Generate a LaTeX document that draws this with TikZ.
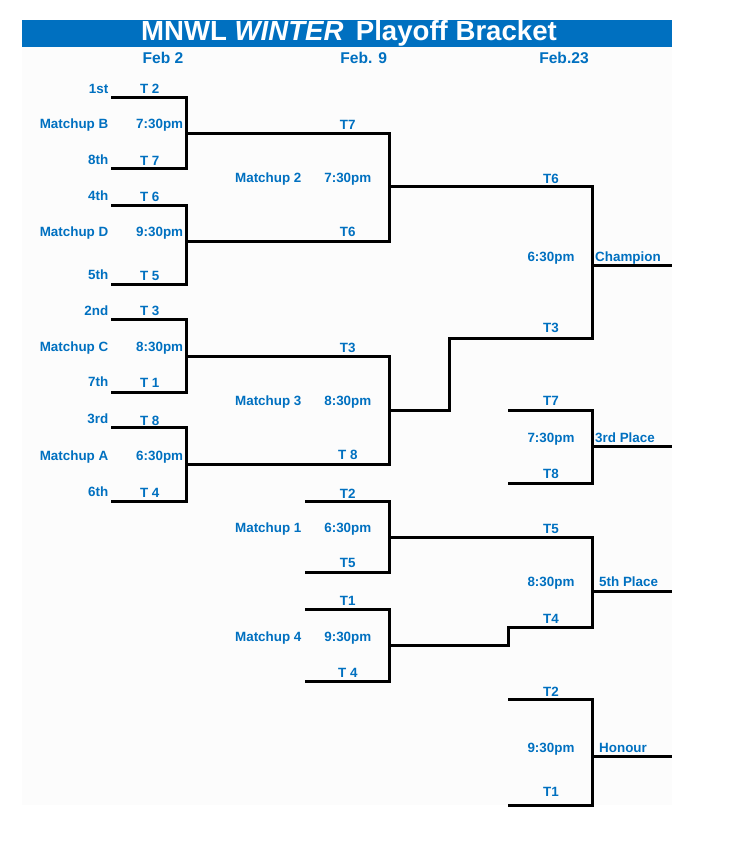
\documentclass[tikz,border=0pt]{standalone}
\usepackage{fontspec}
\setmainfont{Liberation Sans}
\definecolor{xlblue}{HTML}{0070C0}
\definecolor{faintbg}{HTML}{FCFCFC}
\begin{document}
\begin{tikzpicture}[x=1pt,y=-1pt,
  lbl/.style={font=\fontsize{13.4}{16}\selectfont\bfseries, text=xlblue, inner sep=0pt, anchor=base},
  lblr/.style={lbl, anchor=base east},
  lbll/.style={lbl, anchor=base west},
  hdr/.style={font=\fontsize{15.6}{18}\selectfont\bfseries, text=xlblue, inner sep=0pt, anchor=base},
  ttl/.style={font=\fontsize{27.6}{30}\selectfont\bfseries, text=white, inner sep=0pt, anchor=base},
  bline/.style={line width=3pt, black, line join=miter}]
\useasboundingbox (0,0) rectangle (732,844);
\fill[faintbg] (22,47) rectangle (672,805);
% title bar
\fill[xlblue] (22,20) rectangle (672,47);
\node[ttl] (title) at (349,40) {MNWL \textit{WINTER}\hspace{0.45em}Playoff Bracket};
% headers
\node[hdr] (h1) at (163,63.3) {Feb 2};
\node[hdr] (h2) at (363.7,63.3) {Feb. 9};
\node[hdr] (h3) at (564,63.3) {Feb.23};

% ---------- coordinates ----------
% round 1
\coordinate (Bt) at (111,97);    \coordinate (Bb) at (111,168);   \coordinate (Bv) at (186.5,133);
\coordinate (Dt) at (111,205);   \coordinate (Db) at (111,284);   \coordinate (Dv) at (186.5,241);
\coordinate (Ct) at (111,319.3); \coordinate (Cb) at (111,392.3); \coordinate (Cv) at (186.5,356.7);
\coordinate (At) at (111,427.7); \coordinate (Ab) at (111,501);   \coordinate (Av) at (186.5,464.7);
% round 2
\coordinate (M2v) at (389.3,186.5);
\coordinate (M3v) at (389.3,410);
\coordinate (M1t) at (305,501.7); \coordinate (M1b) at (305,572.3); \coordinate (M1v) at (389.3,537.7);
\coordinate (M4t) at (305,609.3); \coordinate (M4b) at (305,681);   \coordinate (M4v) at (389.3,645);
% bends
\coordinate (K3) at (449,338);
\coordinate (K4) at (508.3,627);
% round 3
\coordinate (CHv) at (592.5,265.7); \coordinate (CHe) at (672,265.7);
\coordinate (P3t) at (508.3,410);   \coordinate (P3b) at (508.3,483.3); \coordinate (P3v) at (592.5,446); \coordinate (P3e) at (672,446);
\coordinate (P5v) at (592.5,591.7); \coordinate (P5e) at (672,591.7);
\coordinate (HOt) at (508.3,699.3); \coordinate (HOb) at (508.3,805);   \coordinate (HOv) at (592.5,756); \coordinate (HOe) at (672,756);

% ---------- bracket lines ----------
\draw[bline] (Bt) -- (Bt -| Bv) -- (Bb -| Bv) -- (Bb);
\draw[bline] (Dt) -- (Dt -| Dv) -- (Db -| Dv) -- (Db);
\draw[bline] (Ct) -- (Ct -| Cv) -- (Cb -| Cv) -- (Cb);
\draw[bline] (At) -- (At -| Av) -- (Ab -| Av) -- (Ab);
\draw[bline] (Bv) -- (Bv -| M2v) -- (Dv -| M2v) -- (Dv);
\draw[bline] (Cv) -- (Cv -| M3v) -- (Av -| M3v) -- (Av);
\draw[bline] (M1t) -- (M1t -| M1v) -- (M1b -| M1v) -- (M1b);
\draw[bline] (M4t) -- (M4t -| M4v) -- (M4b -| M4v) -- (M4b);
% champion
\draw[bline] (M2v) -- (M2v -| CHv) -- (K3 -| CHv) -- (K3) -- (K3 |- M3v) -- (M3v);
\draw[bline] (CHv) -- (CHe);
% 3rd place
\draw[bline] (P3t) -- (P3t -| P3v) -- (P3b -| P3v) -- (P3b);
\draw[bline] (P3v) -- (P3e);
% 5th place
\draw[bline] (M1v) -- (M1v -| P5v) -- (K4 -| P5v) -- (K4) -- (K4 |- M4v) -- (M4v);
\draw[bline] (P5v) -- (P5e);
% honour
\draw[bline] (HOt) -- (HOt -| HOv) -- (HOb -| HOv) -- (HOb);
\draw[bline] (HOv) -- (HOe);

% ---------- round 1 labels ----------
\node[lblr] (s1) at (108.5,93)    {1st};
\node[lblr] (mB) at (108.5,128.3) {Matchup B};
\node[lblr] (s8) at (108.5,164)   {8th};
\node[lblr] (s4) at (108.5,200)   {4th};
\node[lblr] (mD) at (108.5,236)   {Matchup D};
\node[lblr] (s5) at (108.5,279)   {5th};
\node[lblr] (s2) at (108.5,315)   {2nd};
\node[lblr] (mC) at (108.5,351)   {Matchup C};
\node[lblr] (s7) at (108.5,386.7) {7th};
\node[lblr] (s3) at (108.5,423.3) {3rd};
\node[lblr] (mA) at (108.5,460)   {Matchup A};
\node[lblr] (s6) at (108.5,496.7) {6th};

\node[lbl] (r1a) at (149.7,93.3)  {T 2};
\node[lbl] (r1b) at (149.7,165)   {T 7};
\node[lbl] (r1c) at (149.7,201)   {T 6};
\node[lbl] (r1d) at (149.7,280)   {T 5};
\node[lbl] (r1e) at (149.7,315.7) {T 3};
\node[lbl] (r1f) at (149.7,387.7) {T 1};
\node[lbl] (r1g) at (149.7,425)   {T 8};
\node[lbl] (r1h) at (149.7,497.3) {T 4};

\node[lbl] (tB) at (159.7,128.3) {7:30pm};
\node[lbl] (tD) at (159.7,236)   {9:30pm};
\node[lbl] (tC) at (159.7,351)   {8:30pm};
\node[lbl] (tA) at (159.7,460)   {6:30pm};

% ---------- round 2 labels ----------
\node[lbl] (r2a) at (347.8,129)   {T7};
\node[lbl] (m2)  at (268.3,182.3) {Matchup 2};
\node[lbl] (t2)  at (347.8,182.3) {7:30pm};
\node[lbl] (r2b) at (347.8,236.7) {T6};
\node[lbl] (r2c) at (347.8,352.7) {T3};
\node[lbl] (m3)  at (268.3,405)   {Matchup 3};
\node[lbl] (t3)  at (347.8,405)   {8:30pm};
\node[lbl] (r2d) at (347.8,459.3) {T 8};
\node[lbl] (r2e) at (347.8,498)   {T2};
\node[lbl] (m1)  at (268.3,532.3) {Matchup 1};
\node[lbl] (t1)  at (347.8,532.3) {6:30pm};
\node[lbl] (r2f) at (347.8,567.7) {T5};
\node[lbl] (r2g) at (347.8,605.7) {T1};
\node[lbl] (m4)  at (268.3,641.3) {Matchup 4};
\node[lbl] (t4)  at (347.8,641.3) {9:30pm};
\node[lbl] (r2h) at (347.8,677.7) {T 4};

% ---------- round 3 labels ----------
\node[lbl] (r3a) at (551,183.3) {T6};
\node[lbl] (tc)  at (551,261)   {6:30pm};
\node[lbl] (r3b) at (551,332.7) {T3};
\node[lbl] (r3c) at (551,405.7) {T7};
\node[lbl] (tp3) at (551,442)   {7:30pm};
\node[lbl] (r3d) at (551,478)   {T8};
\node[lbl] (r3e) at (551,533.3) {T5};
\node[lbl] (tp5) at (551,586)   {8:30pm};
\node[lbl] (r3f) at (551,623.7) {T4};
\node[lbl] (r3g) at (551,696)   {T2};
\node[lbl] (tho) at (551,752)   {9:30pm};
\node[lbl] (r3h) at (551,796.7) {T1};

\node[lbll] (champ) at (595,261) {Champion};
\node[lbll] (third) at (595,442) {3rd Place};
\node[lbll] (fifth) at (599,586) {5th Place};
\node[lbll] (hon)   at (599,752) {Honour};
\end{tikzpicture}
\end{document}
